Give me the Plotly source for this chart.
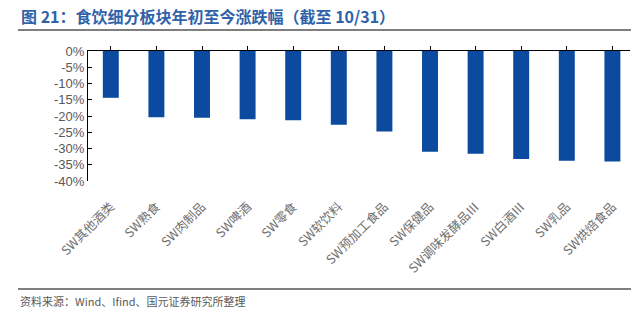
import plotly.graph_objects as go

categories = ["SW其他酒类", "SW熟食", "SW肉制品", "SW啤酒", "SW零食", "SW软饮料",
              "SW预加工食品", "SW保健品", "SW调味发酵品Ⅲ", "SW白酒Ⅲ", "SW乳品", "SW烘焙食品"]
values = [-14.4, -20.4, -20.5, -21.0, -21.3, -22.7, -24.8, -31.0, -31.6, -33.2, -33.8, -34.0]
y_tickvals = [0, -5, -10, -15, -20, -25, -30, -35, -40]
y_ticktext = ["0%", "-5%", "-10%", "-15%", "-20%", "-25%", "-30%", "-35%", "-40%"]
title_text = "图 21：食饮细分板块年初至今涨跌幅（截至 10/31）"
source_text = "资料来源：Wind、Ifind、国元证券研究所整理"

W, H = 631, 324
L, R, T, B = 88, 1, 51, 143
pw = W - L - R
ph = H - T - B

def px_x(p):
    return (p - L) / pw

def px_y(p):
    return (H - B - p) / ph

idx = list(range(len(categories)))

fig = go.Figure()
fig.add_trace(go.Bar(x=idx, y=values, marker=dict(color="#0b4a9e", line=dict(width=0)),
                     width=0.35, showlegend=False))
# invisible trace for top axis
fig.add_trace(go.Scatter(x=idx, y=values, xaxis="x2", mode="markers",
                         marker=dict(opacity=0), showlegend=False, hoverinfo="skip"))

font_cjk = "Noto Sans CJK SC"
fig.update_layout(
    width=W, height=H,
    margin=dict(l=L, r=R, t=T, b=B),
    paper_bgcolor="white", plot_bgcolor="white",
    xaxis=dict(range=[-0.5, -0.5 + pw / 45.6], tickmode="array", tickvals=idx, ticktext=categories,
               tickangle=-45, showline=False, showgrid=False, zeroline=False, ticks="",
               tickfont=dict(family=font_cjk, size=12.5, color="#707070"),
               ticklabelstandoff=15),
    xaxis2=dict(overlaying="x", matches="x", side="top", showticklabels=False, showline=True,
                linecolor="#000000", linewidth=1, ticks="outside", ticklen=4, tickcolor="#000000",
                tickson="boundaries", tickmode="array", tickvals=idx, showgrid=False, zeroline=False),
    yaxis=dict(range=[-40, 0], tickmode="array", tickvals=y_tickvals, ticktext=y_ticktext,
               showline=True, linecolor="#000000", linewidth=1, ticks="inside", ticklen=4,
               tickcolor="#000000", showgrid=False, zeroline=False,
               tickfont=dict(family="Liberation Sans, Arial", size=13, color="#595959")),
    shapes=[
        dict(type="line", xref="paper", yref="paper", x0=px_x(18), x1=px_x(631),
             y0=px_y(30), y1=px_y(30), line=dict(color="#7f7f7f", width=2)),
        dict(type="line", xref="paper", yref="paper", x0=px_x(18), x1=px_x(631),
             y0=px_y(289), y1=px_y(289), line=dict(color="#7f7f7f", width=2)),
    ],
    annotations=[
        dict(text="<b>" + title_text + "</b>", xref="paper", yref="paper", x=px_x(19), y=px_y(16),
             xanchor="left", yanchor="middle", showarrow=False,
             font=dict(family=font_cjk, size=16, color="#2f62a8")),
        dict(text=source_text, xref="paper", yref="paper", x=px_x(18), y=px_y(301),
             xanchor="left", yanchor="middle", showarrow=False,
             font=dict(family=font_cjk, size=11, color="#595959")),
    ],
    bargap=0.65,
)

fig.write_html("out.html")
